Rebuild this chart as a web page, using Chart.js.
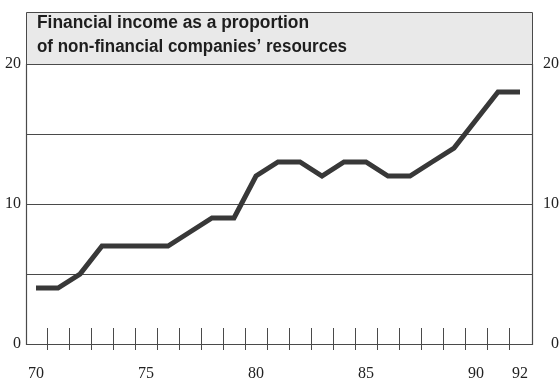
<!DOCTYPE html>
<html>
<head>
<meta charset="utf-8">
<script src="https://cdn.jsdelivr.net/npm/chart.js@4"></script>
<style>
html,body{margin:0;padding:0;background:#fff;}
#wrap{width:559px;height:382px;}
</style>
</head>
<body>
<div id="wrap"><canvas id="c" width="559" height="382"></canvas></div>
<script>
const titleLines = ["Financial income as a proportion", "of non-financial companies\u2019 resources"];
const years = [70,71,72,73,74,75,76,77,78,79,80,81,82,83,84,85,86,87,88,89,90,91,92];
const values = [4,4,5,7,7,7,7,8,9,9,12,13,13,12,13,13,12,12,13,14,16,18,18];
const xTickLabels = [70,75,80,85,90,92];
const yTickLabels = [0,10,20];
const gridValues = [0,5,10,15,20];

const ink = '#383838';
const gridInk = '#4a4a4a';
const serif = '"Liberation Serif", "DejaVu Serif", serif';

const decor = {
  id: 'decor',
  beforeDatasetsDraw(chart) {
    const {ctx, chartArea, scales} = chart;
    const x = scales.x, y = scales.y;
    ctx.save();
    // title box
    const top = 12;
    ctx.fillStyle = '#e9e9e9';
    ctx.fillRect(chartArea.left, top, chartArea.right - chartArea.left, y.getPixelForValue(20) - top);
    ctx.strokeStyle = gridInk;
    ctx.lineWidth = 1;
    ctx.beginPath();
    ctx.moveTo(chartArea.left + 0.5, y.getPixelForValue(20));
    ctx.lineTo(chartArea.left + 0.5, top + 0.5);
    ctx.lineTo(chartArea.right + 0.5, top + 0.5);
    ctx.lineTo(chartArea.right + 0.5, y.getPixelForValue(20));
    ctx.stroke();
    ctx.fillStyle = '#1e1e1e';
    ctx.font = 'bold 18px "Liberation Sans", Arial, sans-serif';
    ctx.textBaseline = 'alphabetic';
    ctx.textAlign = 'left';
    ctx.fillText(titleLines[0], chartArea.left + 11, 28, 272);
    ctx.fillText(titleLines[1], chartArea.left + 11, 52, 310);
    // grid lines
    ctx.strokeStyle = gridInk;
    ctx.lineWidth = 1;
    gridValues.forEach(v => {
      const py = Math.round(y.getPixelForValue(v)) + 0.5;
      ctx.beginPath();
      ctx.moveTo(chartArea.left, py);
      ctx.lineTo(chartArea.right, py);
      ctx.stroke();
    });
    // axes verticals
    ctx.lineWidth = 1.2;
    [chartArea.left + 0.5, chartArea.right + 0.5].forEach(px => {
      ctx.beginPath();
      ctx.moveTo(px, y.getPixelForValue(20));
      ctx.lineTo(px, y.getPixelForValue(0) + 1);
      ctx.stroke();
    });
    // tick marks between years
    const base = y.getPixelForValue(0);
    ctx.lineWidth = 1;
    years.slice(0, -1).forEach(yr => {
      const px = Math.round(x.getPixelForValue(yr + 0.5)) + 0.5;
      ctx.beginPath();
      ctx.moveTo(px, base - 16);
      ctx.lineTo(px, base + 6);
      ctx.stroke();
    });
    ctx.restore();
  }
};

new Chart(document.getElementById('c'), {
  type: 'line',
  data: {
    datasets: [{
      data: years.map((yr, i) => ({x: yr, y: values[i]})),
      borderColor: ink,
      borderWidth: 5,
      pointRadius: 0,
      tension: 0,
      fill: false,
      borderCapStyle: 'butt',
      borderJoinStyle: 'miter'
    }]
  },
  options: {
    responsive: false,
    animation: false,
    devicePixelRatio: 1,
    layout: {padding: {top: 64, left: 0, right: 0, bottom: 0}},
    plugins: {legend: {display: false}, tooltip: {enabled: false}, title: {display: false}},
    scales: {
      x: {
        type: 'linear',
        min: 70 - 10/22,
        max: 92 + 12/22,
        afterBuildTicks: axis => { axis.ticks = xTickLabels.map(v => ({value: v})); },
        afterFit: axis => { axis.height = 38; },
        grid: {display: false, drawTicks: false},
        border: {display: false},
        ticks: {
          autoSkip: false, maxRotation: 0,
          color: '#222', font: {family: serif, size: 16}, padding: 20,
          callback: v => String(v)
        }
      },
      y: {
        position: 'left',
        min: 0, max: 20,
        afterBuildTicks: axis => { axis.ticks = yTickLabels.map(v => ({value: v})); },
        afterFit: axis => { axis.width = 26; },
        grid: {display: false, drawTicks: false},
        border: {display: false},
        ticks: {color: '#222', font: {family: serif, size: 16}, padding: 5}
      },
      y2: {
        position: 'right',
        min: 0, max: 20,
        afterBuildTicks: axis => { axis.ticks = yTickLabels.map(v => ({value: v})); },
        afterFit: axis => { axis.width = 27; },
        grid: {display: false, drawTicks: false},
        border: {display: false},
        ticks: {color: '#222', font: {family: serif, size: 16}, padding: 2, crossAlign: 'far'}
      }
    }
  },
  plugins: [decor]
});
</script>
</body>
</html>
